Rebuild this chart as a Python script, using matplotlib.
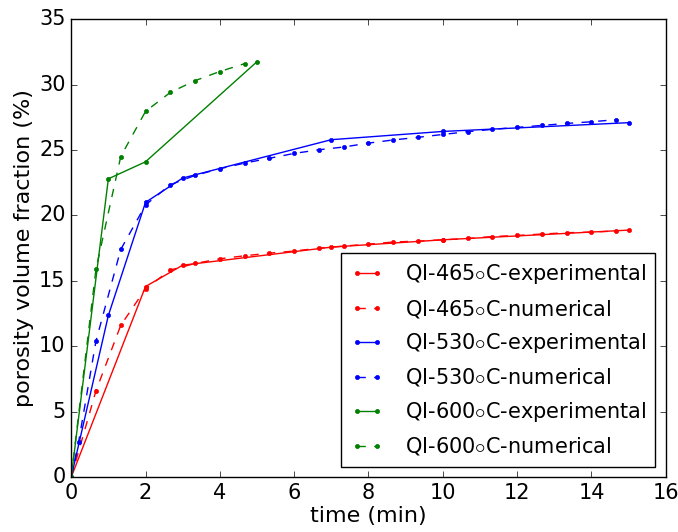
import matplotlib
matplotlib.use("Agg")
import matplotlib.pyplot as plt
import numpy as np

plt.style.use("classic")
plt.rcParams["figure.facecolor"] = "white"
plt.rcParams["savefig.facecolor"] = "white"

# experimental data
t_exp_465 = [0, 2, 3, 7, 10, 15]
p_exp_465 = [0, 14.57, 16.2, 17.58, 18.14, 18.88]
t_exp_530 = [0, 1, 2, 3, 7, 10, 15]
p_exp_530 = [0, 12.36, 21.0, 22.86, 25.79, 26.42, 27.09]
t_exp_600 = [0, 1, 2, 5]
p_exp_600 = [0, 22.8, 24.1, 31.75]

# numerical results, output every 40 s
t_num = np.arange(23) * 2.0 / 3.0
p_num_465 = [0, 6.6, 11.6, 14.4, 15.83, 16.33, 16.69, 16.92, 17.12, 17.28, 17.5,
             17.66, 17.81, 17.97, 18.04, 18.14, 18.24, 18.39, 18.47, 18.58,
             18.68, 18.73, 18.81]
t_num_530 = [0, 0.2] + list(t_num[1:])
p_num_530 = [0, 2.7, 10.4, 17.4, 20.8, 22.35, 23.06, 23.57, 24.0, 24.37, 24.74,
             25.02, 25.23, 25.53, 25.77, 25.97, 26.19, 26.4, 26.58, 26.73,
             26.88, 27.03, 27.16, 27.32]
t_num_600 = t_num[:8]
p_num_600 = [0, 15.9, 24.5, 27.95, 29.4, 30.3, 31.0, 31.6]

fig = plt.figure(figsize=(6.78, 5.32), dpi=100)
ax = fig.add_axes([0.105, 0.103, 0.877, 0.861])

ax.plot(t_exp_465, p_exp_465, "r.-", label=r"QI-465$\circ$C-experimental")
ax.plot(t_num, p_num_465, "r.--", label=r"QI-465$\circ$C-numerical")
ax.plot(t_exp_530, p_exp_530, "b.-", label=r"QI-530$\circ$C-experimental")
ax.plot(t_num_530, p_num_530, "b.--", label=r"QI-530$\circ$C-numerical")
ax.plot(t_exp_600, p_exp_600, "g.-", label=r"QI-600$\circ$C-experimental")
ax.plot(t_num_600, p_num_600, "g.--", label=r"QI-600$\circ$C-numerical")

ax.set_xlim(0, 16)
ax.set_ylim(0, 35)
ax.tick_params(labelsize=15)
ax.set_xlabel("time (min)", fontsize=16, labelpad=2)
ax.set_ylabel("porosity volume fraction (%)", fontsize=16, labelpad=4)
ax.legend(loc="lower right", fontsize=15, handlelength=1.6, handletextpad=1.0,
          labelspacing=0.55, borderpad=0.45, borderaxespad=0.5)

fig.savefig("out.png", dpi=100)
